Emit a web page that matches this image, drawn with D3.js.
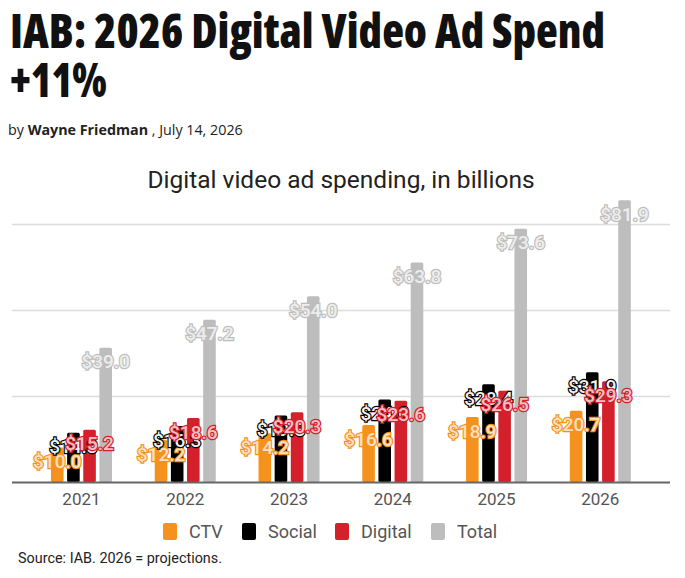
<!DOCTYPE html>
<html>
<head>
<meta charset="utf-8">
<script src="https://cdn.jsdelivr.net/npm/d3@7"></script>
<style>
  html, body { margin: 0; padding: 0; background: #fff; }
  svg { display: block; }
</style>
</head>
<body>
<svg id="chart" width="685" height="578"></svg>
<script>
const years = ["2021", "2022", "2023", "2024", "2025", "2026"];
const seriesNames = ["CTV", "Social", "Digital", "Total"];
const ctv = [10.0, 12.2, 14.2, 16.6, 18.9, 20.7];
const social = [14.3, 16.3, 19.3, 24.0, 28.4, 31.9];
const digital = [15.2, 18.6, 20.3, 23.6, 26.5, 29.3];
const total = [39.0, 47.2, 54.0, 63.8, 73.6, 81.9];
const gridTicks = [25, 50, 75];
const colors = ["#f5921e", "#000000", "#d3202b", "#bdbdbd"];

const valuesBySeries = [ctv, social, digital, total];
const data = years.map((y, i) => ({
  year: y,
  values: seriesNames.map((s, j) => ({ key: s, value: valuesBySeries[j][i], idx: j }))
}));

const svg = d3.select("#chart");

// Headline
svg.append("text")
  .attr("x", 10).attr("y", 48)
  .attr("textLength", 595).attr("lengthAdjust", "spacingAndGlyphs")
  .style("font-family", "'Open Sans', sans-serif")
  .style("font-weight", 800).style("font-stretch", "75%")
  .style("font-size", "47px").style("fill", "#111")
  .text("IAB: 2026 Digital Video Ad Spend");
svg.append("text")
  .attr("x", 10).attr("y", 97)
  .attr("textLength", 97).attr("lengthAdjust", "spacingAndGlyphs")
  .style("font-family", "'Open Sans', sans-serif")
  .style("font-weight", 800).style("font-stretch", "75%")
  .style("font-size", "47px").style("fill", "#111")
  .text("+11%");

// Byline
const by = svg.append("text")
  .attr("x", 8).attr("y", 135)
  .style("font-family", "'Open Sans', sans-serif")
  .style("font-size", "14.3px").style("fill", "#222");
by.append("tspan").text("by ");
by.append("tspan").style("font-weight", 700).text("Wayne Friedman");
by.append("tspan").text(" , July 14, 2026");

// Chart title
svg.append("text")
  .attr("x", 341).attr("y", 188)
  .attr("text-anchor", "middle")
  .style("font-family", "Roboto, sans-serif")
  .style("font-size", "24.5px").style("fill", "#222")
  .text("Digital video ad spending, in billions");

// Scales
const x0 = d3.scaleBand().domain(years).range([29.6, 652.2]).paddingInner(0).paddingOuter(0);
const groupW = 61;
const x1 = d3.scaleBand().domain(seriesNames).range([0, groupW]).paddingInner(0.22).paddingOuter(0);
const y = d3.scaleLinear().domain([0, 75]).range([482, 224]);
const color = d3.scaleOrdinal().domain(seriesNames).range(colors);

// Gridlines
svg.append("g")
  .attr("transform", "translate(12,0)")
  .call(d3.axisLeft(y).tickValues(gridTicks).tickSize(-658).tickFormat(""))
  .call(g => g.select(".domain").remove())
  .call(g => g.selectAll(".tick line").attr("stroke", "#dcdcdc").attr("stroke-width", 1.5));

// Bars
const groups = svg.append("g").selectAll("g").data(data).join("g")
  .attr("transform", d => `translate(${x0(d.year) + (x0.bandwidth() - groupW) / 2},0)`);
groups.selectAll("rect").data(d => d.values).join("rect")
  .attr("x", d => x1(d.key))
  .attr("width", x1.bandwidth())
  .attr("y", d => y(d.value))
  .attr("height", d => y(0) - y(d.value))
  .attr("rx", 1.5)
  .attr("fill", d => color(d.key));

// Baseline
svg.append("line")
  .attr("x1", 12).attr("x2", 670)
  .attr("y1", y(0) + 0.5).attr("y2", y(0) + 0.5)
  .attr("stroke", "#666").attr("stroke-width", 2);

// Labels, drawn in series order over all bars
const labelLayer = svg.append("g");
seriesNames.forEach((s, j) => {
  const c = colors[j];
  const tint = j === 1 ? "#f2f2f2" : d3.interpolateRgb(c, "#ffffff")(0.72);
  labelLayer.append("g").selectAll("text")
    .data(data.map(d => d.values[j]).map((v, i) => ({ ...v, year: years[i] })))
    .join("text")
    .attr("x", d => x0(d.year) + (x0.bandwidth() - groupW) / 2 + x1(d.key) + x1.bandwidth() / 2)
    .attr("y", d => y(d.value) + 14)
    .attr("dy", "0.35em")
    .attr("text-anchor", "middle")
    .style("font-family", "Roboto, sans-serif")
    .style("font-weight", 500)
    .style("font-size", "19px")
    .style("fill", tint)
    .style("stroke", c)
    .style("stroke-width", 2.4)
    .style("paint-order", "stroke fill")
    .text(d => "$" + d3.format(".1f")(d.value));
});

// Year axis
svg.append("g")
  .attr("transform", `translate(0,${y(0) + 2})`)
  .call(d3.axisBottom(x0).tickSize(0).tickPadding(9))
  .call(g => g.select(".domain").remove())
  .call(g => g.selectAll("text")
    .style("font-family", "Roboto, sans-serif")
    .style("font-size", "17px").style("fill", "#555"));

// Legend
const legendX = [163, 242, 335, 431];
const legend = svg.append("g").selectAll("g").data(seriesNames).join("g")
  .attr("transform", (d, i) => `translate(${legendX[i]},523)`);
legend.append("rect")
  .attr("width", 14).attr("height", 17).attr("rx", 2)
  .attr("fill", d => color(d));
legend.append("text")
  .attr("x", 26).attr("y", 9).attr("dy", "0.35em")
  .style("font-family", "Roboto, sans-serif")
  .style("font-size", "18px").style("fill", "#555")
  .text(d => d);

// Source
svg.append("text")
  .attr("x", 18).attr("y", 563)
  .style("font-family", "Roboto, sans-serif")
  .style("font-size", "14.4px").style("fill", "#222")
  .text("Source: IAB. 2026 = projections.");
</script>
</body>
</html>
